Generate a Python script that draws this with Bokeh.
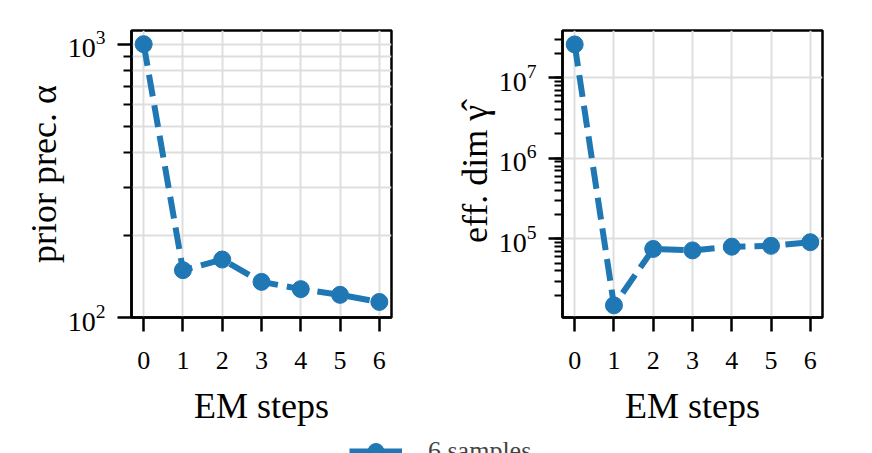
from bokeh.plotting import figure
from bokeh.models import Range1d, FixedTicker, LogTicker, Legend, LegendItem, ColumnDataSource
from bokeh.layouts import column, row
from bokeh.embed import file_html
from bokeh.resources import INLINE

steps = [0, 1, 2, 3, 4, 5, 6]
prior_prec = [1000, 149, 163, 135, 127, 121, 114]
eff_dim = [2.58e7, 1.5e4, 7.5e4, 7.2e4, 8.0e4, 8.2e4, 9.1e4]
left_major_ticks = [100, 1000]
left_minor_ticks = [200, 300, 400, 500, 600, 700, 800, 900]
series_label = "6 samples"
x_label = "EM steps"
y_label_left = "prior prec. α"
y_label_right = "eff. dim γ\u0302"

BLUE = "#1f77b4"
FONT = "Liberation Serif"
GRID = "#dedede"


def make_panel(src, ycol, yr, ylabel, width, bl, br, minor_grid, yticker):
    p = figure(width=width, height=428, y_axis_type="log",
               x_range=Range1d(-0.31, 6.31), y_range=yr,
               output_backend="svg", toolbar_location=None,
               min_border_left=bl, min_border_right=br,
               min_border_top=30, min_border_bottom=110)
    p.line("x", ycol, source=src, line_color=BLUE, line_width=6, line_dash="22 9")
    p.scatter("x", ycol, source=src, size=17, color=BLUE)
    p.outline_line_color = "black"
    p.outline_line_width = 2.5
    p.background_fill_color = "white"
    p.border_fill_color = "white"

    p.xaxis.ticker = FixedTicker(ticks=steps)
    p.yaxis.ticker = yticker
    for ax in (p.xaxis[0], p.yaxis[0]):
        ax.axis_line_color = "black"
        ax.axis_line_width = 2.5
        ax.major_tick_in = 0
        ax.major_tick_out = 14
        ax.major_tick_line_width = 2.5
        ax.minor_tick_in = 0
        ax.minor_tick_out = 8
        ax.minor_tick_line_width = 1.8
        ax.major_label_text_font = FONT
        ax.axis_label_text_font = FONT
        ax.axis_label_text_font_style = "normal"
        ax.axis_label_text_font_size = "36px"
        ax.axis_label_text_color = "black"
        ax.major_label_text_color = "black"
    p.xaxis.major_label_text_font_size = "26px"
    p.yaxis.major_label_text_font_size = "28px"
    p.xaxis.major_label_standoff = 20
    p.yaxis.major_label_standoff = 12
    p.xaxis.axis_label = x_label
    p.yaxis.axis_label = ylabel
    p.xaxis.axis_label_standoff = 14
    p.yaxis.axis_label_standoff = 1

    p.xgrid.grid_line_color = GRID
    p.xgrid.grid_line_width = 2
    p.ygrid.grid_line_color = GRID
    p.ygrid.grid_line_width = 2
    if minor_grid:
        p.ygrid.minor_grid_line_color = GRID
        p.ygrid.minor_grid_line_width = 2
    return p


src = ColumnDataSource(dict(x=steps, a=prior_prec, g=eff_dim))

p1 = make_panel(src, "a", Range1d(100, 1122), y_label_left, 436, 131, 45, True,
                FixedTicker(ticks=left_major_ticks, minor_ticks=left_minor_ticks))
p2 = make_panel(src, "g", Range1d(1.06e4, 3.84e7), y_label_right, 436, 126, 50, False,
                LogTicker(num_minor_ticks=10))

# legend strip below the panels (partly cut by the page edge, as in the reference)
p3 = figure(width=872, height=25, output_backend="svg", toolbar_location=None,
            x_range=Range1d(100, 101), y_range=Range1d(0, 1), min_border=0)
p3.axis.visible = False
p3.grid.visible = False
p3.outline_line_color = None
lr = p3.line("x", "a", source=src, line_color=BLUE, line_width=6)
sr = p3.scatter("x", "a", source=src, size=17, color=BLUE)
leg = Legend(items=[LegendItem(label=series_label, renderers=[lr, sr])],
             location=(349, -18), padding=0, margin=0,
             glyph_width=53, glyph_height=40, label_standoff=26,
             label_text_font=FONT, label_text_font_size="26px",
             border_line_color=None, background_fill_alpha=0)
p3.add_layout(leg)

layout = column(row(p1, p2), p3)
open("out.html", "w").write(file_html(layout, INLINE))
